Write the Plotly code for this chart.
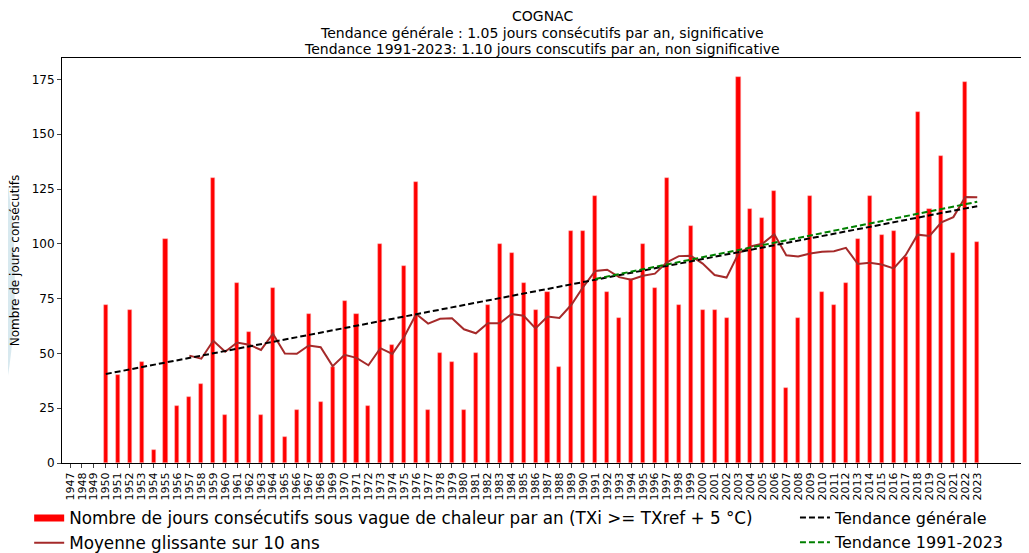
import plotly.graph_objects as go

# ---------------- data ----------------
tick_years = list(range(1947, 2024))
tick_labels = [str(y) for y in tick_years]

bar_years = list(range(1950, 2024))
bar_values = [72, 40, 70, 46, 6, 102, 26, 30, 36, 130,
              22, 82, 60, 22, 80, 12, 24, 68, 28, 44,
              74, 68, 26, 100, 54, 90, 128, 24, 50, 46,
              24, 50, 72, 100, 96, 82, 70, 78, 44, 106,
              106, 122, 78, 66, 84, 100, 80, 130, 72, 108,
              70, 70, 66, 176, 116, 112, 124, 34, 66, 122,
              78, 72, 82, 102, 122, 104, 106, 94, 160, 116,
              140, 96, 174, 101]

ma_years = list(range(1957, 2024))
ma_values = [49.0, 47.6, 55.8, 50.8, 55.0, 54.0, 51.6, 59.0, 50.0, 49.8,
             53.6, 52.8, 44.2, 49.4, 48.0, 44.6, 52.4, 49.8, 57.6, 68.0,
             63.6, 65.8, 66.0, 61.0, 59.2, 63.8, 63.8, 68.0, 67.2, 61.4,
             66.8, 66.2, 72.2, 80.4, 87.6, 88.2, 84.8, 83.6, 85.4, 86.4,
             91.6, 94.4, 94.6, 91.0, 85.8, 84.6, 95.6, 98.8, 100.0, 104.4,
             94.8, 94.2, 95.6, 96.4, 96.6, 98.2, 90.8, 91.4, 90.6, 88.8,
             94.8, 104.2, 103.6, 109.8, 112.2, 121.4, 121.3]

trend_gen_years = [1950, 2023]
trend_gen_values = [40.6, 117.2]

trend_recent_years = [1991, 2023]
trend_recent_values = [84.0, 119.2]

title_lines = ["COGNAC",
               "Tendance générale : 1.05 jours consécutifs par an, significative",
               "Tendance 1991-2023: 1.10 jours conscutifs par an, non significative"]

FONT = "DejaVu Sans"

fig = go.Figure()

fig.add_trace(go.Bar(
    x=bar_years, y=bar_values, width=0.34,
    marker=dict(color="#ff0000", line=dict(width=0.6, color="rgba(255,170,170,0.8)")),
    showlegend=False, hoverinfo="x+y"))

# legend handle for the bars (matplotlib shows a thick line)
fig.add_trace(go.Scatter(
    x=[None], y=[None], mode="lines",
    line=dict(color="#ff0000", width=7),
    name="Nombre de jours consécutifs sous vague de chaleur par an (TXi >= TXref + 5 °C)",
    legend="legend", legendgroup="a"))

fig.add_trace(go.Scatter(
    x=ma_years, y=ma_values, mode="lines",
    line=dict(color="#a52a2a", width=2),
    name="Moyenne glissante sur 10 ans", legend="legend", legendgroup="b"))

fig.add_trace(go.Scatter(
    x=trend_gen_years, y=trend_gen_values, mode="lines",
    line=dict(color="black", width=2, dash="6px,3px"),
    name="Tendance générale", legend="legend2", legendgroup="c"))

fig.add_trace(go.Scatter(
    x=trend_recent_years, y=trend_recent_values, mode="lines",
    line=dict(color="#008000", width=2, dash="6px,3px"),
    name="Tendance 1991-2023", legend="legend2", legendgroup="d"))

W, H = 1021, 545  # page body has an 8px margin
PLOT_H = 405

# title lines as annotations, placed above the plot area (pixel offsets above top spine)
title_offsets = [41.5, 25, 8.5]
title_annotations = [
    dict(text=t, x=0.5, xref="paper", y=1 + off / PLOT_H, yref="paper",
         xanchor="center", yanchor="middle", showarrow=False,
         font=dict(size=14, family=FONT, color="black"))
    for t, off in zip(title_lines, title_offsets)
]

fig.update_layout(
    width=W, height=H,
    margin=dict(l=54, r=7, t=50, b=90, autoexpand=False),
    paper_bgcolor="white", plot_bgcolor="white",
    font=dict(family=FONT, color="black"),
    annotations=title_annotations,
    bargap=0,
    showlegend=True,
    legend=dict(x=-0.0342, y=-0.0926, xanchor="left", yanchor="top",
                orientation="v", font=dict(size=16.8, family=FONT),
                bgcolor="rgba(0,0,0,0)", tracegroupgap=0),
    legend2=dict(x=0.7635, y=-0.0926, xanchor="left", yanchor="top",
                 orientation="v", font=dict(size=16, family=FONT),
                 bgcolor="rgba(0,0,0,0)", tracegroupgap=1),
    xaxis=dict(range=[1946.33, 2026.75], tickmode="array",
               tickvals=tick_years, ticktext=tick_labels, tickangle=-90,
               tickfont=dict(size=11, family=FONT), ticks="outside", ticklen=4,
               showline=True, linecolor="black", linewidth=1, mirror=True,
               showgrid=False, zeroline=False, automargin=False),
    yaxis=dict(range=[0, 184.8], tickmode="array",
               tickvals=[0, 25, 50, 75, 100, 125, 150, 175],
               tickfont=dict(size=12, family=FONT), ticks="outside", ticklen=4,
               showline=True, linecolor="black", linewidth=1, mirror=True,
               showgrid=False, zeroline=False, automargin=False,
               title=dict(text="Nombre de jours consécutifs",
                          font=dict(size=12, family=FONT), standoff=10)),
    shapes=[dict(type="path", xref="paper", yref="paper", layer="below",
                 path="M -0.0646,0.7728 C -0.0440,0.62 -0.0440,0.28 -0.0646,0.1309 Z",
                 fillcolor="rgba(190,218,228,0.6)", line=dict(width=0))],
)

fig.write_html("out.html")
